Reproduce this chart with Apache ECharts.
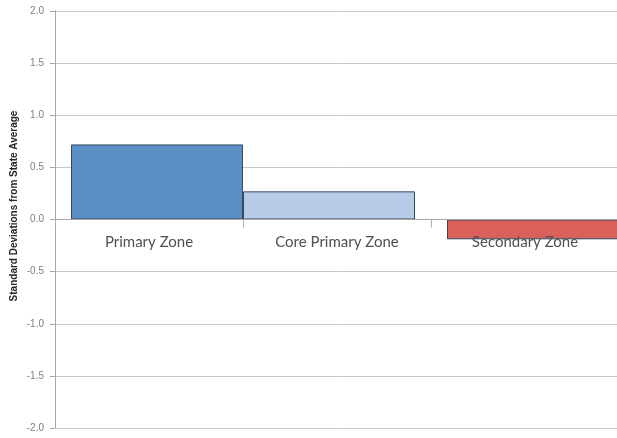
<!DOCTYPE html>
<html>
<head>
<meta charset="utf-8">
<script src="https://cdn.jsdelivr.net/npm/echarts@6/dist/echarts.min.js"></script>
<style>
    html, body { margin: 0; padding: 0; background: #fff; }
    #chart { width: 617px; height: 438px; }
</style>
</head>
<body>
<div id="chart"></div>
<script>
const categories = ['Primary Zone', 'Core Primary Zone', 'Secondary Zone']
const values = [0.72, 0.27, -0.19]
const barColors = ['#5c8ec6', '#b7cbe6', '#d9605b']
const yTicks = [-2.0, -1.5, -1.0, -0.5, 0.0, 0.5, 1.0, 1.5, 2.0]

const chart = echarts.init(document.getElementById('chart'))

const gridTop = 11
const gridBottom = 10
const plotHeight = 438 - gridTop - gridBottom

// Excel draws the bars slightly off-centre: Core sits left, the others right.
// Two overlapping series (Core first) reproduce that shift.
function seriesFor(indices) {
    return categories.map((c, i) => indices.includes(i)
        ? { value: values[i], itemStyle: { color: barColors[i] } }
        : null)
}

const barStyle = { borderColor: '#34495e', borderWidth: 1 }

// move the category axis (line + labels) up to the zero line
const yMin = yTicks[0]
const yMax = yTicks[yTicks.length - 1]
const zeroOffset = -plotHeight * (0 - yMin) / (yMax - yMin)

const option = {
    animation: false,
    grid: { left: 55, right: -2, top: gridTop, bottom: gridBottom, outerBoundsMode: 'none' },
    xAxis: {
        type: 'category',
        data: categories,
        z: 10,
        offset: zeroOffset,
        axisLine: { onZero: false, lineStyle: { color: '#a6a6a6', width: 1 } },
        axisTick: { show: true, length: 8, lineStyle: { color: '#b0b0b0' } },
        axisLabel: {
            margin: 15,
            fontSize: 15,
            color: '#505050',
            fontFamily: 'Lato'
        },
        splitLine: { show: false }
    },
    yAxis: {
        type: 'value',
        min: yMin,
        max: yMax,
        interval: 0.5,
        axisLine: { show: true, lineStyle: { color: '#a6a6a6' } },
        axisTick: { show: true, length: 5, lineStyle: { color: '#a6a6a6' } },
        axisLabel: {
            margin: 11,
            fontSize: 10,
            color: '#808080',
            fontFamily: 'Liberation Sans',
            formatter: v => v.toFixed(1)
        },
        splitLine: { lineStyle: { color: '#c8c8c8', width: 1 } }
    },
    graphic: [{
        type: 'text',
        x: 14,
        y: 206,
        rotation: Math.PI / 2,
        style: {
            text: 'Standard Deviations from State Average',
            font: 'bold 10px "Liberation Sans"',
            fill: '#262626',
            align: 'center',
            verticalAlign: 'middle'
        }
    }],
    series: [
        {
            type: 'bar',
            data: seriesFor([1]),
            barWidth: 172,
            barGap: '-90.7%',
            itemStyle: barStyle
        },
        {
            type: 'bar',
            data: seriesFor([0, 2]),
            barWidth: 172,
            barGap: '-90.7%',
            itemStyle: barStyle
        }
    ]
}

chart.setOption(option)
</script>
</body>
</html>
